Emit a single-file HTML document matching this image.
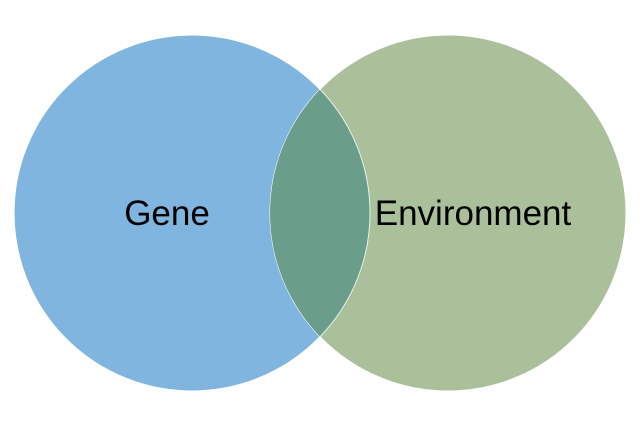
<!DOCTYPE html>
<html><head><meta charset="utf-8"><style>
html,body{margin:0;padding:0;background:#fff;width:640px;height:426px;overflow:hidden}
svg text{font-family:"Liberation Sans",sans-serif;font-size:35px;fill:#000}
</style></head><body>
<svg width="640" height="426" viewBox="0 0 640 426">
<defs><clipPath id="cl"><circle cx="192" cy="213" r="178"/></clipPath></defs>
<circle cx="192" cy="213" r="178" fill="#7fb5de" stroke="#fff" stroke-width="1"/>
<circle cx="448" cy="213" r="178" fill="#aac09a" stroke="#fff" stroke-width="1"/>
<circle cx="448" cy="213" r="178" fill="#6a9e8a" clip-path="url(#cl)"/>
<circle cx="192" cy="213" r="178" fill="none" stroke="#fff" stroke-width="1" opacity="0.8"/>
<text x="167" y="225" text-anchor="middle">Gene</text>
<text x="473" y="225" text-anchor="middle">Environment</text>
</svg>
</body></html>
